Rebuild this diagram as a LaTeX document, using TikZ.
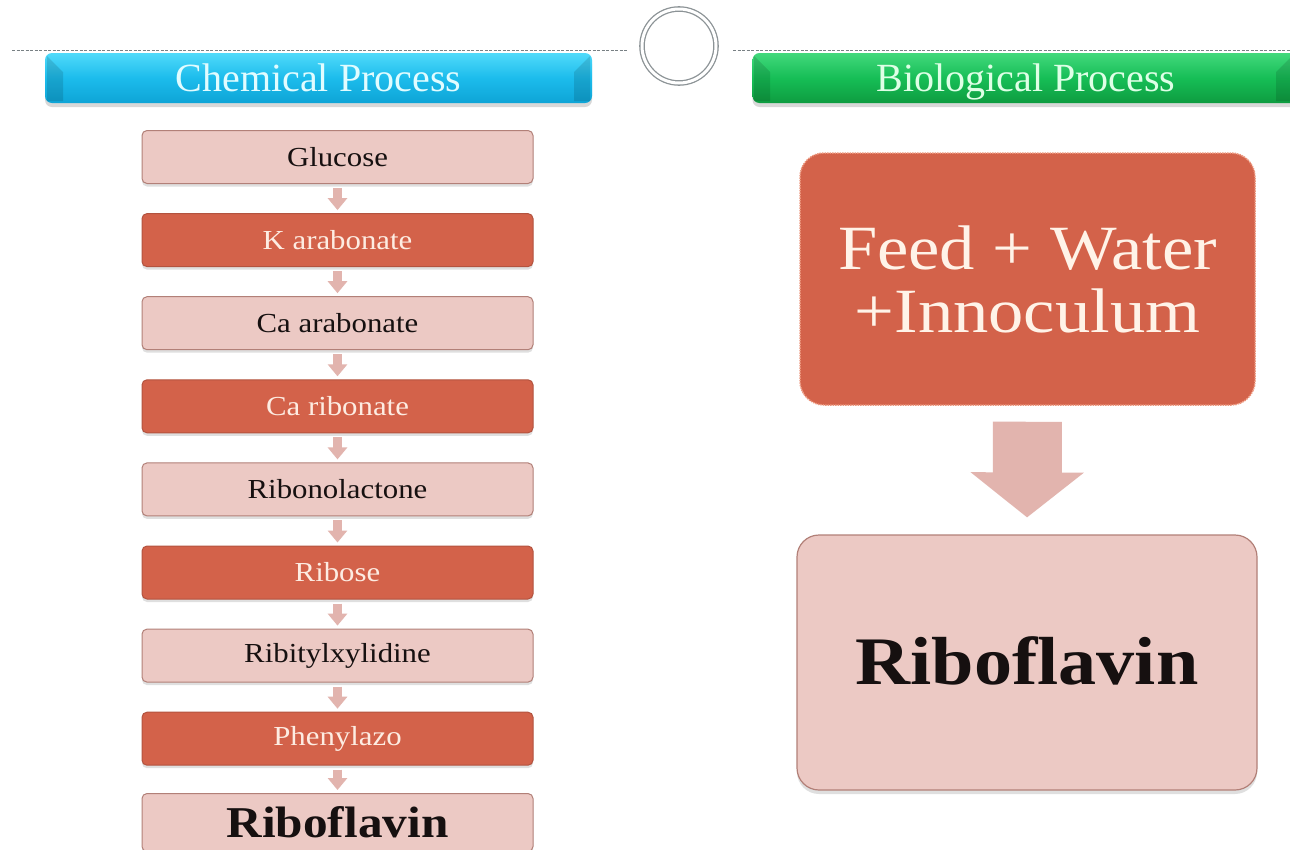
\documentclass[tikz,border=0pt]{standalone}
\usepackage{fontspec}
\setmainfont{Liberation Serif}[FakeStretch=1.12]
\newfontfamily\headfont{Liberation Serif}
\usetikzlibrary{arrows.meta,shadows}

\definecolor{paleRose}{RGB}{236,201,196}
\definecolor{roseEdge}{RGB}{178,128,120}
\definecolor{brick}{RGB}{211,98,74}
\definecolor{brickEdge}{RGB}{236,150,125}
\definecolor{cream}{RGB}{253,236,226}
\definecolor{stepPink}{RGB}{226,180,174}
\definecolor{cyanTop}{RGB}{80,218,250}
\definecolor{cyanMid}{RGB}{28,188,236}
\definecolor{cyanBot}{RGB}{14,164,214}
\definecolor{greenTop}{RGB}{66,216,124}
\definecolor{greenMid}{RGB}{22,190,86}
\definecolor{greenBot}{RGB}{14,156,64}
\definecolor{ruleGray}{RGB}{120,128,132}
\definecolor{inkDark}{RGB}{22,16,16}

\begin{document}
\begin{tikzpicture}[x=1pt,y=-1pt,
  lightbox/.style={draw=roseEdge,line width=1pt,fill=paleRose,rounded corners=5pt,
    minimum width=391pt,minimum height=53pt,inner sep=0pt,text=inkDark,
    font=\fontsize{27.5}{30}\selectfont,
    drop shadow={shadow xshift=0pt,shadow yshift=-3pt,opacity=.25}},
  darkbox/.style={lightbox,draw=brick!85!black,fill=brick,text=cream},
  stepconn/.style={stepPink,line width=9pt,shorten <=4pt,shorten >=3pt,
    -{Triangle[width=19pt,length=12pt]}},
  headbar/.style={rounded corners=7pt,minimum width=547pt,minimum height=50pt,inner sep=0pt,
    text height=29pt,text depth=2pt,
    font=\headfont\fontsize{40}{44}\selectfont,
    drop shadow={shadow xshift=0pt,shadow yshift=-4pt,opacity=.3}},
  ruleline/.style={ruleGray,line width=1pt,dash pattern=on 3pt off 1.5pt},
]
\useasboundingbox (0,0) rectangle (1290,849);
\clip (0,0) rectangle (1290,849);
\fill[white] (0,0) rectangle (1290,849);

% section headers
\node[headbar,top color=cyanTop,bottom color=cyanBot,middle color=cyanMid,
      text={rgb,255:red,225;green,252;blue,255}] (chem) at (318.5,78) {Chemical Process};
\node[headbar,top color=greenTop,bottom color=greenBot,middle color=greenMid,
      text={rgb,255:red,222;green,255;blue,230}] (bio) at (1026,78) {Biological Process};

% bevelled ends of the header bars
\fill[black,opacity=.12] (47,56) -- (63,72) -- (63,101) -- (47,101) -- cycle;
\fill[black,opacity=.12] (590,56) -- (574,72) -- (574,101) -- (590,101) -- cycle;
\fill[black,opacity=.12] (754,56) -- (770,72) -- (770,101) -- (754,101) -- cycle;
\fill[black,opacity=.12] (1292,56) -- (1276,72) -- (1276,101) -- (1292,101) -- cycle;

% divider rule and central ring
\node[circle,draw=ruleGray!85,line width=1.3pt,double=white,double distance=3pt,
      minimum size=74pt,inner sep=0pt] (hub) at (679,46) {};
\draw[ruleline] (12,50) -- (628,50);
\draw[ruleline] (733,50) -- (1290,50);

% chemical route
\node[lightbox] (g0) at (337.5,157.0) {Glucose};
\node[darkbox]  (g1) at (337.5,240.1) {K arabonate};
\node[lightbox] (g2) at (337.5,323.2) {Ca arabonate};
\node[darkbox]  (g3) at (337.5,406.3) {Ca ribonate};
\node[lightbox] (g4) at (337.5,489.4) {Ribonolactone};
\node[darkbox]  (g5) at (337.5,572.5) {Ribose};
\node[lightbox] (g6) at (337.5,655.6) {Ribitylxylidine};
\node[darkbox]  (g7) at (337.5,738.7) {Phenylazo};
\node[lightbox,minimum height=58pt,font=\bfseries\fontsize{44}{48}\selectfont]
      (g8) at (337.5,822.5) {Riboflavin};

\foreach \a/\b in {g0/g1,g1/g2,g2/g3,g3/g4,g4/g5,g5/g6,g6/g7,g7/g8}
  \draw[stepconn] (\a.south) -- (\b.north);

% biological route
\node[draw=brickEdge,line width=1.5pt,densely dotted,fill=brick,rounded corners=24pt,
      minimum width=455pt,minimum height=252pt,inner sep=0pt,align=center,
      text={rgb,255:red,255;green,243;blue,232},font=\fontsize{63}{63}\selectfont]
      (feed) at (1027.5,279) {Feed + Water\\+Innoculum};
\node[draw=roseEdge,line width=1.2pt,fill=paleRose,rounded corners=22pt,
      minimum width=460pt,minimum height=255pt,inner sep=0pt,text=inkDark,
      font=\bfseries\fontsize{68}{70}\selectfont,
      drop shadow={shadow xshift=0pt,shadow yshift=-4pt,opacity=.25}]
      (rib) at (1027,662.5) {\raisebox{4pt}{Riboflavin}};
\draw[stepPink,line width=69pt,shorten <=16pt,shorten >=17pt,
      -{Triangle[width=111pt,length=45pt]}] (feed.south) -- (rib.north);
\end{tikzpicture}
\end{document}
